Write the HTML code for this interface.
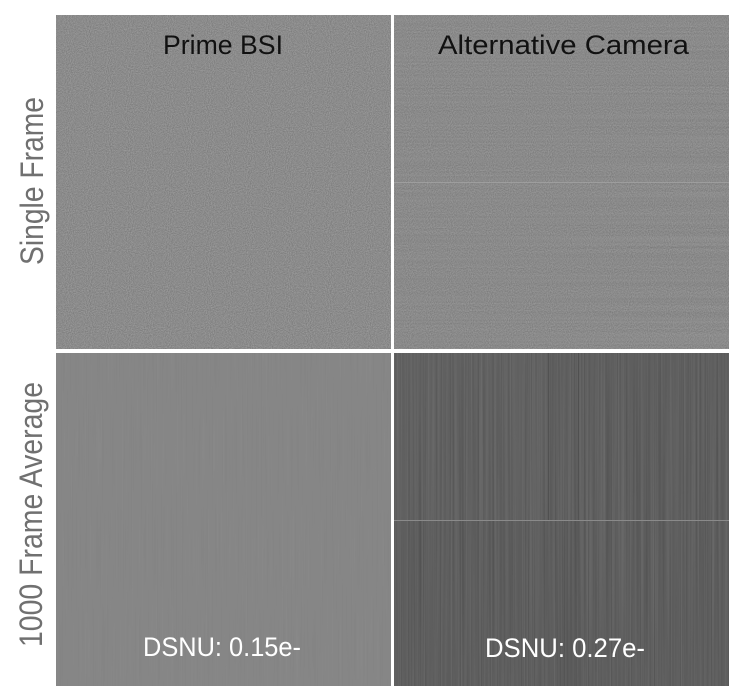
<!DOCTYPE html>
<html><head><meta charset="utf-8"><style>
html,body{margin:0;padding:0;background:#fff;width:742px;height:699px;overflow:hidden}
svg{display:block}
</style></head><body>
<svg width="742" height="699" viewBox="0 0 742 699" xmlns="http://www.w3.org/2000/svg">
<defs>
<filter id="grain" x="0" y="0" width="100%" height="100%" color-interpolation-filters="sRGB">
<feTurbulence type="fractalNoise" baseFrequency="0.95" numOctaves="1" seed="4"/>
<feColorMatrix type="matrix" values="1 0 0 0 0  1 0 0 0 0  1 0 0 0 0  0 0 0 0 0.24"/>
</filter>
<filter id="grainR" x="0" y="0" width="100%" height="100%" color-interpolation-filters="sRGB">
<feTurbulence type="fractalNoise" baseFrequency="0.95" numOctaves="1" seed="9"/>
<feColorMatrix type="matrix" values="1 0 0 0 0  1 0 0 0 0  1 0 0 0 0  0 0 0 0 0.22"/>
</filter>
<filter id="hband" x="0" y="0" width="100%" height="100%" color-interpolation-filters="sRGB">
<feTurbulence type="fractalNoise" baseFrequency="0.002 0.6" numOctaves="1" seed="5"/>
<feColorMatrix type="matrix" values="1 0 0 0 0  1 0 0 0 0  1 0 0 0 0  0 0 0 0 0.06"/>
</filter>
<filter id="soft" x="0" y="0" width="100%" height="100%" color-interpolation-filters="sRGB">
<feTurbulence type="fractalNoise" baseFrequency="0.8 0.01" numOctaves="1" seed="2"/>
<feColorMatrix type="matrix" values="1 0 0 0 0  1 0 0 0 0  1 0 0 0 0  0 0 0 0 0.03"/>
</filter>
<filter id="streak" x="0" y="0" width="100%" height="100%" color-interpolation-filters="sRGB">
<feTurbulence type="fractalNoise" baseFrequency="0.7 0.003" numOctaves="2" seed="7"/>
<feColorMatrix type="matrix" values="1 0 0 0 0  1 0 0 0 0  1 0 0 0 0  0 0 0 0 0.14"/>
</filter>
</defs>

<!-- Top-left -->
<rect x="56" y="15" width="335" height="334" fill="#8f8f8f"/>
<rect x="56" y="15" width="335" height="334" fill="#000" filter="url(#grain)"/>
<!-- Top-right -->
<rect x="394" y="15" width="335" height="334" fill="#8e8e8e"/>
<rect x="394" y="15" width="335" height="334" fill="#000" filter="url(#grainR)"/>
<rect x="394" y="15" width="335" height="334" fill="#000" filter="url(#hband)"/>
<rect x="394" y="182" width="335" height="1" fill="#a4a4a4" opacity="0.75"/>
<!-- Bottom-left -->
<rect x="56" y="353" width="335" height="333" fill="#868686"/>
<rect x="56" y="353" width="335" height="333" fill="#000" filter="url(#soft)"/>
<!-- Bottom-right -->
<rect x="394" y="353" width="335" height="333" fill="#595959"/>
<rect x="394" y="353" width="335" height="333" fill="#000" filter="url(#streak)"/>
<rect x="394" y="353" width="155" height="167" fill="#fff" opacity="0.025"/>
<rect x="548" y="353" width="1" height="167" fill="#3e3e3e" opacity="0.5"/>
<rect x="578" y="353" width="1" height="167" fill="#454545" opacity="0.4"/>
<rect x="558" y="521" width="22" height="165" fill="#000" opacity="0.04"/>
<rect x="394" y="520" width="335" height="1" fill="#8a8a8a"/>

<!-- Titles -->
<text x="163" y="54" font-family="Liberation Sans, sans-serif" font-size="27" fill="#111" textLength="120" lengthAdjust="spacingAndGlyphs">Prime BSI</text>
<text x="438" y="54" font-family="Liberation Sans, sans-serif" font-size="27" fill="#111" textLength="251" lengthAdjust="spacingAndGlyphs">Alternative Camera</text>

<!-- DSNU labels -->
<text x="143" y="656" font-family="Liberation Sans, sans-serif" font-size="27" fill="#fff" textLength="158" lengthAdjust="spacingAndGlyphs">DSNU: 0.15e-</text>
<text x="485" y="657" font-family="Liberation Sans, sans-serif" font-size="27" fill="#fff" textLength="160" lengthAdjust="spacingAndGlyphs">DSNU: 0.27e-</text>

<!-- Side labels -->
<text transform="translate(43,265) rotate(-90)" font-family="Liberation Sans, sans-serif" font-size="32" fill="#707070" textLength="168" lengthAdjust="spacingAndGlyphs">Single Frame</text>
<text transform="translate(42,647) rotate(-90)" font-family="Liberation Sans, sans-serif" font-size="32" fill="#707070" textLength="265" lengthAdjust="spacingAndGlyphs">1000 Frame Average</text>
</svg>
</body></html>
